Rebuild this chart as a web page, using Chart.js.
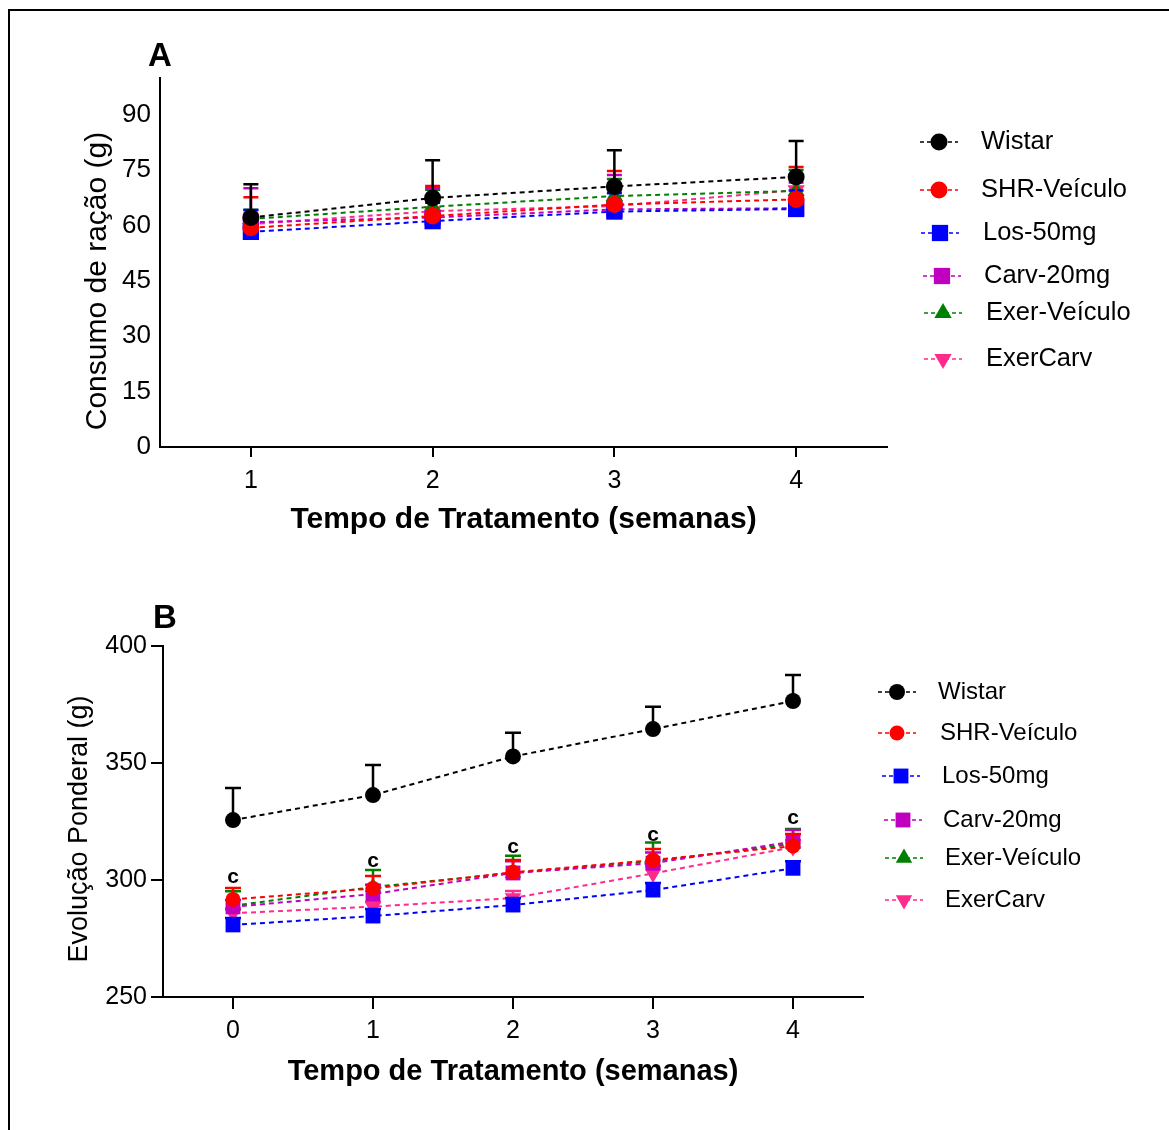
<!DOCTYPE html>
<html>
<head>
<meta charset="utf-8">
<script src="https://cdn.jsdelivr.net/npm/chart.js@4.4.1/dist/chart.umd.min.js"></script>
<style>
  body { margin: 0; background: #fff; }
  #page { position: relative; width: 1169px; height: 1130px; overflow: hidden; background: #fff; }
  #frame { position: absolute; left: 8px; top: 9px; width: 1300px; height: 1300px; border-left: 2px solid #000; border-top: 2px solid #000; }
  .box { position: absolute; left: 0; width: 1169px; }
</style>
</head>
<body>
<div id="page">
  <div id="frame"></div>
  <div class="box" style="top:0;height:570px"><canvas id="chartA"></canvas></div>
  <div class="box" style="top:570px;height:560px"><canvas id="chartB"></canvas></div>
</div>
<script>
var groups = ['Wistar', 'SHR-Veículo', 'Los-50mg', 'Carv-20mg', 'Exer-Veículo', 'ExerCarv'];

// Panel A - consumo de ração (g), mean and upper SEM
var weeksA = [1, 2, 3, 4];
var yTicksA = [0, 15, 30, 45, 60, 75, 90];
var wistarA = [62.2, 67.5, 70.6, 73.2];
var shrA = [59.4, 62.6, 65.7, 67.1];
var losA = [58.3, 61.2, 63.8, 64.5];
var carvA = [60.9, 62.2, 64.4, 64.7];
var exerA = [61.8, 65.1, 68.0, 69.4];
var exerCarvA = [60.4, 63.9, 65.3, 69.6];
var wistarSemA = [9.0, 10.2, 9.8, 9.7];
var shrSemA = [8.3, 8.1, 9.1, 8.8];
var losSemA = [5.9, 5.0, 5.0, 5.0];
var carvSemA = [9.2, 8.0, 9.3, 7.0];
var exerSemA = [2.5, 4.6, 4.6, 5.7];
var exerCarvSemA = [3.0, 3.5, 4.0, 4.0];

// Panel B - evolução ponderal (g)
var weeksB = [0, 1, 2, 3, 4];
var yTicksB = [250, 300, 350, 400];
var wistarB = [325.6, 336.3, 352.8, 364.5, 376.5];
var shrB = [291.7, 296.4, 303.3, 308.5, 314.5];
var losB = [280.8, 284.6, 289.3, 295.7, 305.0];
var carvB = [288.5, 294.0, 303.0, 307.2, 316.4];
var exerB = [289.0, 297.0, 303.0, 308.0, 315.5];
var exerCarvB = [285.8, 288.6, 292.3, 302.8, 314.0];
var wistarSemB = [13.7, 12.8, 10.1, 9.5, 11.1];
var shrSemB = [4.9, 5.3, 5.2, 4.7, 5.2];
var losSemB = [3, 3, 3, 3, 3];
var carvSemB = [3, 4, 5, 4.6, 5];
var exerSemB = [6.2, 7.3, 7.4, 8.0, 6.3];
var exerCarvSemB = [2, 2, 3, 3, 3];
var sigLabelB = [301.3, 308.1, 314.1, 319.2, 326.5];

// styles
var colors = ['#000000', '#ff0000', '#0000ff', '#bf00bf', '#008000', '#ff2a8c'];
var shapes = ['circle', 'circle', 'rect', 'rect', 'triangle', 'triangle'];
var rotations = [0, 0, 0, 0, 0, 180];
var radiiA = [8.5, 8.5, 11.5, 11.5, 10, 10];
var radiiB = [8, 7.5, 10.5, 10.5, 9.5, 9.5];
var FONT = 'Arial, "Liberation Sans", sans-serif';

function drawMarker(ctx, shape, r, rot, x, y, color) {
  ctx.save();
  ctx.fillStyle = color;
  ctx.translate(x, y);
  ctx.rotate(rot * Math.PI / 180);
  ctx.beginPath();
  if (shape === 'circle') {
    ctx.arc(0, 0, r, 0, Math.PI * 2);
  } else if (shape === 'rect') {
    var s = Math.SQRT1_2 * r;
    ctx.rect(-s, -s, 2 * s, 2 * s);
  } else {
    for (var k = 0; k < 3; k++) {
      var a = k * 2 * Math.PI / 3;
      ctx.lineTo(Math.sin(a) * r, -Math.cos(a) * r);
    }
    ctx.closePath();
  }
  ctx.fill();
  ctx.restore();
}

// upper error bars, drawn just below each dataset
var errorBars = {
  id: 'errorBars',
  beforeDatasetDraw: function(chart, args, opts) {
    var ds = chart.data.datasets[args.index];
    var ctx = chart.ctx, xs = chart.scales.x, ys = chart.scales.y;
    ctx.save();
    ctx.strokeStyle = ds.borderColor;
    ctx.lineWidth = opts.lineWidth;
    ctx.setLineDash([]);
    ds.data.forEach(function(p, i) {
      var px = xs.getPixelForValue(p.x);
      var py = ys.getPixelForValue(p.y);
      var pt = ys.getPixelForValue(p.y + ds.sem[i]);
      ctx.beginPath();
      ctx.moveTo(px, py);
      ctx.lineTo(px, pt);
      ctx.moveTo(px - opts.cap, pt);
      ctx.lineTo(px + opts.cap, pt);
      ctx.stroke();
    });
    ctx.restore();
  }
};

// side legend, y title, panel letter and significance letters
var decor = {
  id: 'decor',
  afterDraw: function(chart, args, o) {
    var ctx = chart.ctx, xs = chart.scales.x, ys = chart.scales.y, area = chart.chartArea;
    ctx.save();
    ctx.fillStyle = '#000';
    ctx.textBaseline = 'middle';

    // legend
    ctx.font = o.legendFont;
    ctx.textAlign = 'left';
    chart.data.datasets.forEach(function(ds, i) {
      var mx = o.legendX[i], my = o.legendY[i];
      ctx.save();
      ctx.strokeStyle = ds.borderColor;
      ctx.lineWidth = 1.5;
      ctx.setLineDash([4, 3]);
      ctx.beginPath();
      ctx.moveTo(mx - o.legendHalf, my);
      ctx.lineTo(mx + o.legendHalf, my);
      ctx.stroke();
      ctx.restore();
      drawMarker(ctx, ds.pointStyle, ds.pointRadius, ds.pointRotation, mx, my, ds.borderColor);
      ctx.fillStyle = '#000';
      ctx.fillText(ds.label, o.legendTextX[i], my);
    });

    // panel letter
    ctx.font = o.letterFont;
    ctx.textAlign = 'center';
    ctx.fillText(o.letter, o.letterX, o.letterY);

    // significance marks
    if (o.sigY) {
      ctx.font = o.sigFont;
      o.sigY.forEach(function(v, i) {
        ctx.fillText(o.sigText, xs.getPixelForValue(o.sigX[i]), ys.getPixelForValue(v));
      });
    }

    // y axis title
    ctx.font = o.yTitleFont;
    ctx.translate(o.yTitleX, (area.top + area.bottom) / 2 + o.yTitleDy);
    ctx.rotate(-Math.PI / 2);
    ctx.fillText(o.yTitle, 0, 0);
    ctx.restore();
  }
};

function makeDatasets(weeks, series, sems, radii) {
  return groups.map(function(g, i) {
    return {
      label: g,
      data: weeks.map(function(w, k) { return {x: w, y: series[i][k]}; }),
      sem: sems[i],
      borderColor: colors[i],
      backgroundColor: colors[i],
      borderWidth: 2,
      borderDash: [5, 4],
      pointStyle: shapes[i],
      pointRotation: rotations[i],
      pointRadius: radii[i],
      pointBackgroundColor: colors[i],
      pointBorderColor: colors[i],
      pointBorderWidth: 0,
      tension: 0,
      clip: false
    };
  });
}

function axisX(min, max, ticks, title, height, tickLen, pad, titleSize, titlePad) {
  return {
    type: 'linear', min: min, max: max,
    afterBuildTicks: function(s) { s.ticks = ticks.map(function(v) { return {value: v}; }); },
    grid: { drawOnChartArea: false, drawTicks: true, tickLength: tickLen, color: '#000', lineWidth: 2 },
    border: { display: true, color: '#000', width: 2 },
    ticks: { color: '#000', font: {family: FONT, size: 25}, padding: pad, maxRotation: 0 },
    title: { display: true, text: title, color: '#000', font: {family: FONT, size: titleSize, weight: 'bold'}, padding: {top: 0, bottom: titlePad} },
    afterFit: function(s) { s.height = height; }
  };
}

function axisY(min, max, ticks, width, drawTicks, pad, size) {
  return {
    min: min, max: max,
    afterBuildTicks: function(s) { s.ticks = ticks.map(function(v) { return {value: v}; }); },
    grid: { drawOnChartArea: false, drawTicks: drawTicks, tickLength: 12, color: '#000', lineWidth: 2 },
    border: { display: true, color: '#000', width: 2 },
    ticks: { color: '#000', font: {family: FONT, size: size}, padding: pad },
    afterFit: function(s) { s.width = width; }
  };
}

Chart.defaults.animation = false;

var chartA = new Chart(document.getElementById('chartA'), {
  type: 'line',
  data: {
    datasets: makeDatasets(weeksA,
      [wistarA, shrA, losA, carvA, exerA, exerCarvA],
      [wistarSemA, shrSemA, losSemA, carvSemA, exerSemA, exerCarvSemA], radiiA)
  },
  options: {
    responsive: true,
    maintainAspectRatio: false,
    layout: { padding: {left: 0, top: 78, right: 282, bottom: 0} },
    scales: {
      x: axisX(0.5, 4.5, weeksA, 'Tempo de Tratamento (semanas)', 123, 10, 9, 30, 32),
      y: axisY(0, 100, yTicksA, 160, false, 9, 26)
    },
    plugins: {
      legend: { display: false },
      tooltip: { enabled: false },
      errorBars: { lineWidth: 2.5, cap: 7.5 },
      decor: {
        legendFont: '25.5px ' + FONT,
        legendX: [939, 939, 940, 942, 943, 943],
        legendY: [142, 190, 233, 276, 313, 359],
        legendTextX: [981, 981, 983, 984, 986, 986],
        legendHalf: 19,
        letter: 'A', letterX: 160, letterY: 57, letterFont: 'bold 33px ' + FONT,
        yTitle: 'Consumo de ração (g)', yTitleX: 98, yTitleDy: 18.5, yTitleFont: '30px ' + FONT
      }
    }
  },
  plugins: [errorBars, decor]
});

var chartB = new Chart(document.getElementById('chartB'), {
  type: 'line',
  data: {
    datasets: makeDatasets(weeksB,
      [wistarB, shrB, losB, carvB, exerB, exerCarvB],
      [wistarSemB, shrSemB, losSemB, carvSemB, exerSemB, exerCarvSemB], radiiB)
  },
  options: {
    responsive: true,
    maintainAspectRatio: false,
    layout: { padding: {left: 0, top: 76, right: 306, bottom: 0} },
    scales: {
      x: axisX(-0.5, 4.5, weeksB, 'Tempo de Tratamento (semanas)', 133, 12, 7, 29, 41),
      y: axisY(250, 400, yTicksB, 163, true, 4, 25)
    },
    plugins: {
      legend: { display: false },
      tooltip: { enabled: false },
      errorBars: { lineWidth: 2.5, cap: 8 },
      decor: {
        legendFont: '24px ' + FONT,
        legendX: [897, 897, 901, 903, 904, 904],
        legendY: [122, 163, 206, 250, 288, 330],
        legendTextX: [938, 940, 942, 943, 945, 945],
        legendHalf: 19,
        letter: 'B', letterX: 165, letterY: 49, letterFont: 'bold 33px ' + FONT,
        sigText: 'c', sigX: weeksB, sigY: sigLabelB, sigFont: 'bold 21px ' + FONT,
        yTitle: 'Evolução Ponderal (g)', yTitleX: 80, yTitleDy: 7.5, yTitleFont: '27px ' + FONT
      }
    }
  },
  plugins: [errorBars, decor]
});
</script>
</body>
</html>
